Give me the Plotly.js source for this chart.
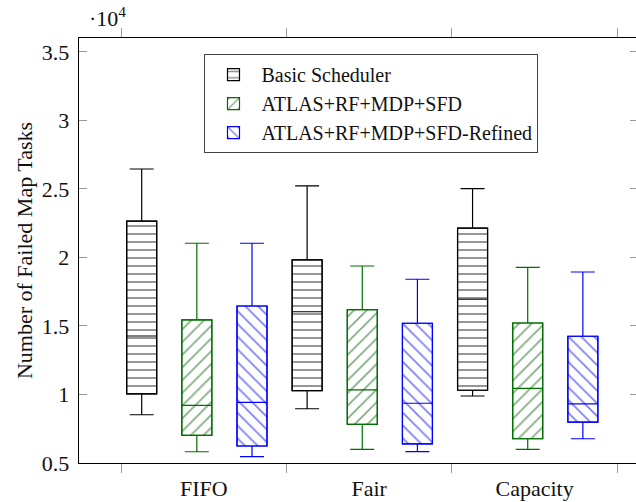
<!DOCTYPE html>
<html>
<head>
<meta charset="utf-8">
<script src="https://cdn.plot.ly/plotly-3.0.1.min.js"></script>
<style>
  html, body { margin: 0; padding: 0; overflow: hidden; background: #fff; }
  #chart { width: 650px; height: 502px; }
</style>
</head>
<body>
<div id="chart"></div>
<script>
// ---- Data (number of failed map tasks) ----
const categories = ['FIFO', 'Fair', 'Capacity'];
const seriesNames = ['Basic Scheduler', 'ATLAS+RF+MDP+SFD', 'ATLAS+RF+MDP+SFD-Refined'];

const basicLower  = [8520, 8960, 9890];
const basicQ1     = [10040, 10280, 10310];
const basicMedian = [14270, 16040, 16950];
const basicQ3     = [22660, 19820, 22150];
const basicUpper  = [26460, 25220, 25020];

const atlasLower  = [5820, 6000, 6000];
const atlasQ1     = [7020, 7820, 6770];
const atlasMedian = [9210, 10330, 10450];
const atlasQ3     = [15440, 16190, 15220];
const atlasUpper  = [21040, 19380, 19280];

const refinedLower  = [5460, 5830, 6770];
const refinedQ1     = [6240, 6390, 7990];
const refinedMedian = [9430, 9360, 9310];
const refinedQ3     = [16460, 15200, 14250];
const refinedUpper  = [21040, 18410, 18940];

const yTickVals = [0.5, 1, 1.5, 2, 2.5, 3, 3.5];
const yTickText = ['0.5', '1', '1.5', '2', '2.5', '3', '3.5'];

// ---- Styling / layout helpers ----
const SCALE = 1e4;
const FONT = 'Liberation Serif, Times New Roman, serif';
const FS = 22;
const BOXW = 0.544;
const colors = ['#000000', '#006e00', '#0000ff'];
const hatchColors = ['#222222', '#005a00', '#0000ee'];
const shapes = ['-', '/', '\\'];
const sizes = [8, 9, 9];
const solid = [0.24, 0.19, 0.19];

const sets = [
  [basicLower, basicQ1, basicMedian, basicQ3, basicUpper],
  [atlasLower, atlasQ1, atlasMedian, atlasQ3, atlasUpper],
  [refinedLower, refinedQ1, refinedMedian, refinedQ3, refinedUpper]
];

const sc = a => a.map(v => v / SCALE);
const traces = [];

sets.forEach((s, i) => {
  const xs = categories.map((c, g) => g * 3 + i + 1);
  const q1 = sc(s[1]), q3 = sc(s[3]);
  traces.push({
    type: 'bar',
    name: seriesNames[i],
    x: xs,
    base: q1,
    y: q3.map((v, k) => v - q1[k]),
    width: BOXW,
    marker: {
      color: '#ffffff',
      line: { color: colors[i], width: 1.2 },
      pattern: { shape: shapes[i], fgcolor: hatchColors[i], bgcolor: '#ffffff',
                 size: sizes[i], solidity: solid[i], fillmode: 'overlay' }
    },
    hoverinfo: 'skip',
    showlegend: true
  });
});

sets.forEach((s, i) => {
  const xs = categories.map((c, g) => g * 3 + i + 1);
  traces.push({
    type: 'box',
    name: seriesNames[i],
    x: xs,
    lowerfence: sc(s[0]),
    q1: sc(s[1]),
    median: sc(s[2]),
    q3: sc(s[3]),
    upperfence: sc(s[4]),
    width: BOXW,
    whiskerwidth: 0.8,
    boxpoints: false,
    fillcolor: 'rgba(0,0,0,0)',
    line: { color: colors[i], width: 1.2 },
    hoverinfo: 'skip',
    showlegend: false
  });
});

const groupCenters = categories.map((c, g) => g * 3 + 2.125);
const groupEdges = [0.625, 3.625, 6.625, 9.625];

const layout = {
  width: 650,
  height: 502,
  margin: { l: 79, r: 12, t: 38, b: 39 },
  paper_bgcolor: '#ffffff',
  plot_bgcolor: '#ffffff',
  font: { family: FONT, size: FS, color: '#111' },
  barmode: 'overlay',
  boxmode: 'overlay',
  showlegend: true,
  legend: {
    x: 0.2245, y: 0.962, xanchor: 'left', yanchor: 'top',
    bgcolor: '#ffffff', bordercolor: '#444', borderwidth: 1,
    font: { family: FONT, size: 20, color: '#111' },
    traceorder: 'normal', tracegroupgap: 0, itemwidth: 46
  },
  xaxis: {
    range: [-0.137, 10.0],
    showgrid: false, zeroline: false,
    showline: true, linecolor: '#000', linewidth: 1.3, mirror: 'ticks',
    tickmode: 'array', tickvals: groupCenters, ticktext: categories,
    ticks: '', ticklabelstandoff: 5,
    tickfont: { family: FONT, size: FS, color: '#111' },
    minor: { tickmode: 'array', tickvals: groupEdges, ticks: 'outside',
             ticklen: 9, tickwidth: 1, tickcolor: '#999', showgrid: false }
  },
  yaxis: {
    range: [0.5, 3.602],
    showgrid: false, zeroline: false,
    showline: true, linecolor: '#000', linewidth: 1.3, mirror: 'ticks',
    tickmode: 'array', tickvals: yTickVals, ticktext: yTickText,
    ticks: 'inside', ticklen: 8, tickwidth: 1, tickcolor: '#999',
    ticklabelstandoff: 4,
    tickfont: { family: FONT, size: FS, color: '#111' },
    title: { text: 'Number of Failed Map Tasks', standoff: 3,
             font: { family: FONT, size: FS, color: '#111' } }
  },
  annotations: [{
    xref: 'paper', yref: 'paper', x: 0.014, y: 1.05,
    xanchor: 'left', yanchor: 'middle', showarrow: false,
    text: '·10<sup>4</sup>', font: { family: FONT, size: 22, color: '#111' }
  }]
};

Plotly.newPlot('chart', traces, layout, { staticPlot: true, displayModeBar: false });
</script>
</body>
</html>
